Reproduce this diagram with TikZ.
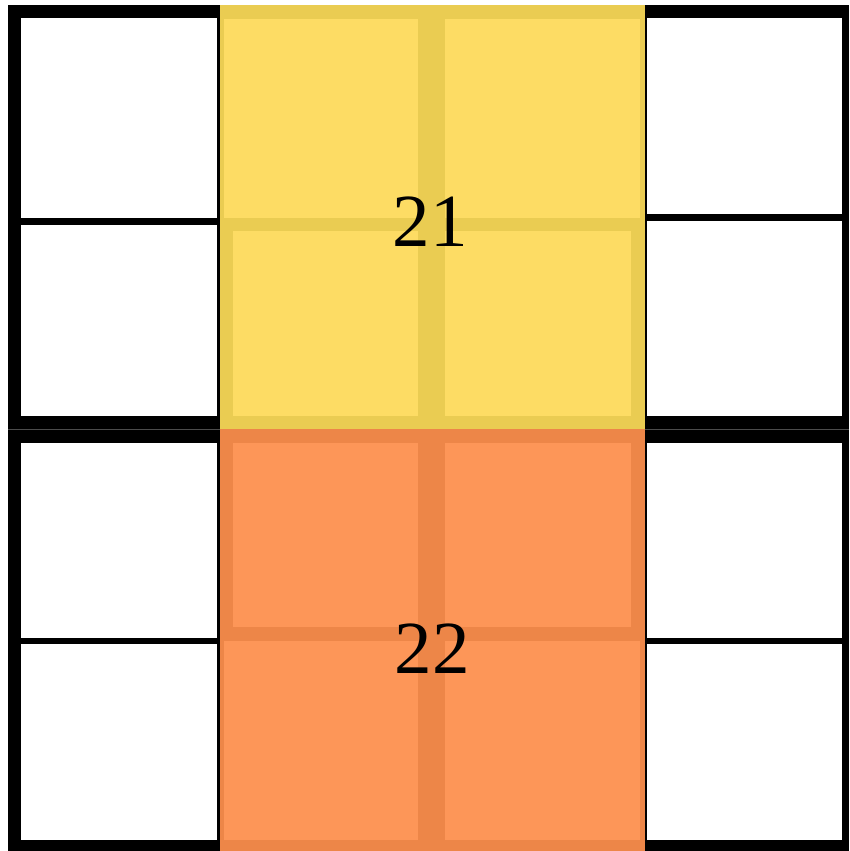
\documentclass[tikz,border=0pt]{standalone}
\usepackage{fontspec}
\setmainfont{Liberation Serif}
\definecolor{ylite}{HTML}{FDDC64}
\definecolor{ydark}{HTML}{EACC52}
\definecolor{olite}{HTML}{FD9658}
\definecolor{odark}{HTML}{ED8648}
\tikzset{
  grid/.style={fill=black},
  wcell/.style={fill=white},
  ycage/.style={fill=ydark},
  ycell/.style={fill=ylite},
  ocage/.style={fill=odark},
  ocell/.style={fill=olite},
  seam/.style={draw=black!70,line width=0.8pt},
  sumlab/.style={font=\fontsize{75}{80}\selectfont,inner sep=0pt},
}
\begin{document}
\begin{tikzpicture}[x=1pt,y=-1pt]
  \useasboundingbox (0,0) rectangle (849,851);
  \fill[white] (0,0) rectangle (849,851);
  \fill[grid] (8,5) rectangle (849,851);
  \fill[wcell] (21,18) rectangle (217,218);
  \fill[wcell] (21,225) rectangle (217,416);
  \fill[wcell] (21,443) rectangle (217,638);
  \fill[wcell] (21,644) rectangle (217,840);
  \fill[wcell] (647,18) rectangle (842,214);
  \fill[wcell] (647,221) rectangle (842,416);
  \fill[wcell] (647,443) rectangle (842,638);
  \fill[wcell] (647,644) rectangle (842,840);
  \draw[seam] (8,429) -- (849,429);
  \fill[ycage] (220,5) rectangle (645,429);
  \fill[ycell] (224,19) rectangle (418,218);
  \fill[ycell] (445,19) rectangle (640,218);
  \fill[ycell] (233,231) rectangle (418,416);
  \fill[ycell] (445,231) rectangle (631,416);
  \fill[ocage] (220,429) rectangle (645,851);
  \fill[ocell] (233,443) rectangle (418,627);
  \fill[ocell] (445,443) rectangle (631,627);
  \fill[ocell] (224,641) rectangle (418,840);
  \fill[ocell] (445,641) rectangle (640,840);
  \node[sumlab] (s21) at (430,222) {21};
  \node[sumlab] (s22) at (432,649) {22};
\end{tikzpicture}
\end{document}
